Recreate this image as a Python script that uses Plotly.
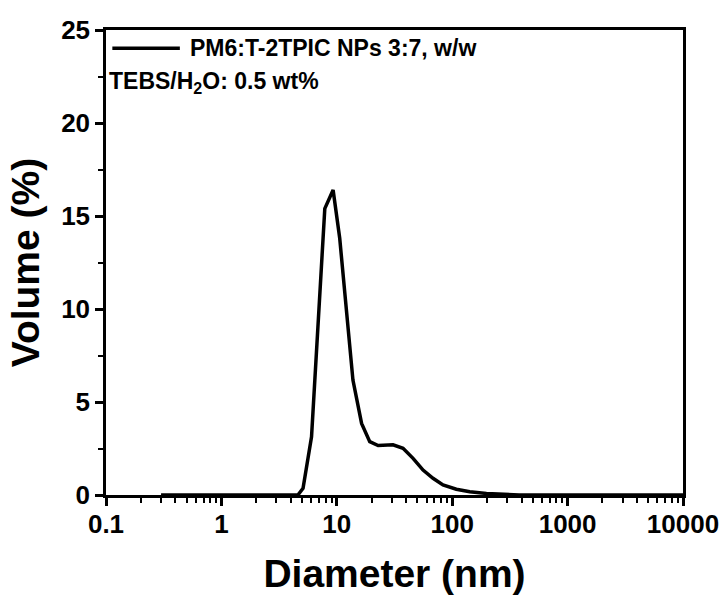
import plotly.graph_objects as go

# Data (Diameter in nm, Volume in %)
diameter_nm = [0.3, 4.6, 5.1, 6.04, 7.87, 9.29, 10.6, 13.8, 16.4, 19.3, 22.8, 26.0, 30.7,
               37.5, 45.8, 55.9, 68.2, 83.2, 108.6, 142, 198, 380, 10000]
volume_pct = [0, 0, 0.36, 3.13, 15.4, 16.4, 13.8, 6.18, 3.85, 2.87, 2.66, 2.68, 2.70,
              2.51, 1.97, 1.34, 0.9, 0.54, 0.31, 0.18, 0.08, 0, 0]

x_tick_vals = [0.1, 1, 10, 100, 1000, 10000]
x_tick_text = ["0.1", "1", "10", "100", "1000", "10000"]
x_minor_vals = [m * d for d in [0.1, 1, 10, 100, 1000] for m in range(2, 10)]
y_tick_vals = [0, 5, 10, 15, 20, 25]

legend_label = "PM6:T-2TPIC NPs 3:7, w/w"
note_label = "TEBS/H<sub>2</sub>O: 0.5 wt%"

FONT = "Liberation Sans, Arial, sans-serif"

fig = go.Figure()
fig.add_trace(go.Scatter(
    x=diameter_nm, y=volume_pct, mode="lines",
    line=dict(color="black", width=3.5),
    showlegend=False, name=legend_label,
))

axis_common = dict(
    showline=True, linecolor="black", linewidth=2.5, mirror=True,
    ticks="outside", ticklen=8, tickwidth=2.5, tickcolor="black",
    showgrid=False, zeroline=False, automargin=False,
    tickfont=dict(family=FONT, size=26, color="black", weight="bold"),
)

fig.update_xaxes(
    type="log", range=[-1, 4],
    tickmode="array", tickvals=x_tick_vals, ticktext=x_tick_text,
    minor=dict(ticks="outside", ticklen=5, tickwidth=2, tickcolor="black",
               tickmode="array", tickvals=x_minor_vals),
    ticklabelstandoff=-4,
    title=dict(text="Diameter (nm)", font=dict(family=FONT, size=39, color="black", weight="bold"),
               standoff=22),
    **axis_common,
)
fig.update_yaxes(
    range=[0, 25], tickvals=y_tick_vals,
    minor=dict(ticks="outside", ticklen=5, tickwidth=2, tickcolor="black", dtick=2.5),
    title=dict(text="Volume (%)", font=dict(family=FONT, size=39, color="black", weight="bold"),
               standoff=10),
    **axis_common,
)

# legend sample line and texts
fig.add_shape(type="line", xref="paper", yref="paper",
              x0=0.011, x1=0.128, y0=0.961, y1=0.961,
              line=dict(color="black", width=3.5))
fig.add_annotation(xref="paper", yref="paper", x=0.142, y=0.961, xanchor="left", yanchor="middle",
                   text=legend_label, showarrow=False,
                   font=dict(family=FONT, size=23, color="black", weight="bold"))
fig.add_annotation(xref="paper", yref="paper", x=0.002, y=0.888, xanchor="left", yanchor="middle",
                   text=note_label, showarrow=False,
                   font=dict(family=FONT, size=23, color="black", weight="bold"))

fig.update_layout(
    width=724, height=599, autosize=False,
    margin=dict(l=106, r=41, t=30, b=104),
    plot_bgcolor="white", paper_bgcolor="white",
)

fig.write_html("out.html")
